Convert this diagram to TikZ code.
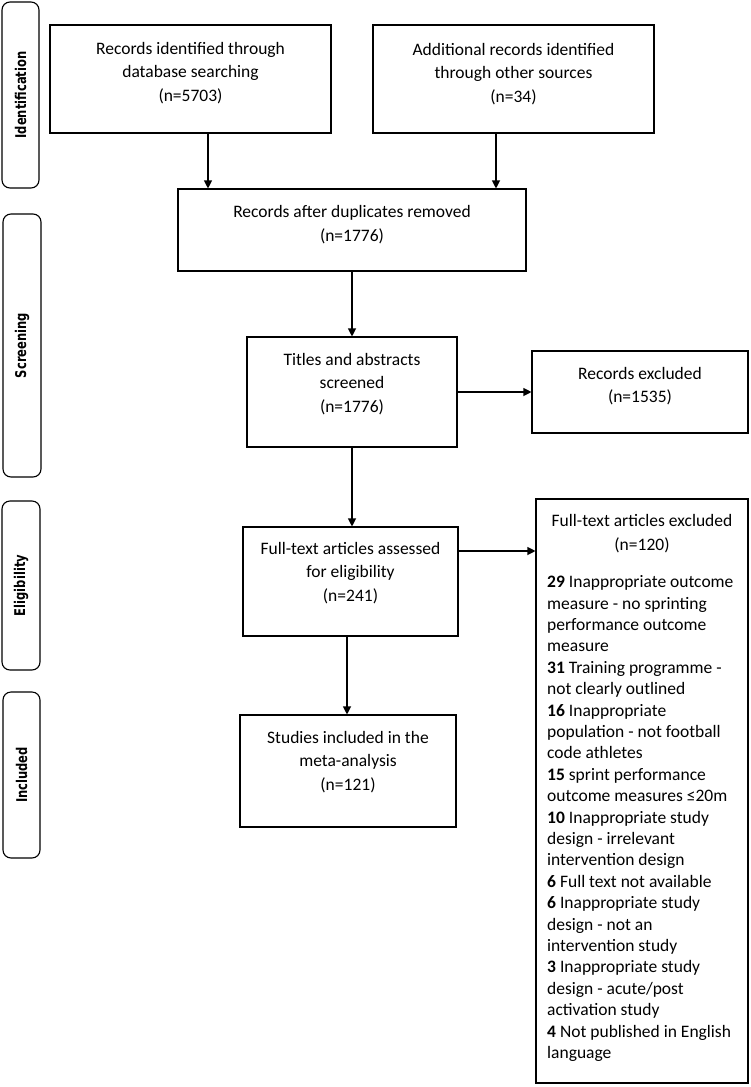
\documentclass[tikz,border=0pt]{standalone}
\usepackage{fontspec}
\setmainfont{Carlito}
\newfontfamily\sidefont[FakeStretch=0.78]{DejaVu Sans}
\usetikzlibrary{arrows.meta,fit}
\begin{document}
\begin{tikzpicture}[x=1pt,y=-1pt,
  box/.style={draw, line width=1.1pt, inner sep=0pt},
  side/.style={draw, line width=1.1pt, inner sep=0pt, rounded corners=8pt},
  sidetxt/.style={rotate=90, font=\sidefont\bfseries\fontsize{14.8}{18}\selectfont, inner sep=0pt},
  txt/.style={align=center, inner sep=0pt, font=\fontsize{17.5}{23.5}\selectfont},
  listtxt/.style={align=left, inner sep=0pt, font=\fontsize{17.5}{21.4}\selectfont},
  arr/.style={line width=1.1pt, -{Triangle[length=8pt,width=8pt]}}]
\useasboundingbox (0,0) rectangle (751,1087);

% side labels
\node[side, fit={(2,2) (39,188)}] (L1) {};
\node[sidetxt] at (L1.center) {Identification};
\node[side, fit={(3,214) (41,477)}] (L2) {};
\node[sidetxt] at (L2.center) {Screening};
\node[side, fit={(2,501) (40,670)}] (L3) {};
\node[sidetxt] at (L3.center) {Eligibility};
\node[side, fit={(3,692) (40,858)}] (L4) {};
\node[sidetxt] at (L4.center) {Included};

% boxes
\node[box, fit={(50,25) (331,133)}] (A) {};
\node[txt] at (190.5,73) {Records identified through\\database searching\\(n=5703)};
\node[box, fit={(373,25) (654,133)}] (B) {};
\node[txt] at (513.5,74) {Additional records identified\\through other sources\\(n=34)};
\node[box, fit={(178,189) (526,271)}] (C) {};
\node[txt] at (352,224.5) {Records after duplicates removed\\(n=1776)};
\node[box, fit={(247,337) (457,447)}] (D) {};
\node[txt] at (352,384) {Titles and abstracts\\screened\\(n=1776)};
\node[box, fit={(532,351) (748,433)}] (E) {};
\node[txt] at (640,386) {Records excluded\\(n=1535)};
\node[box, fit={(243,527) (458,636)}] (F) {};
\node[txt] at (350.5,573) {Full-text articles assessed\\for eligibility\\(n=241)};
\node[box, fit={(240,715) (456,827)}] (G) {};
\node[txt] at (348,762) {Studies included in the\\meta-analysis\\(n=121)};
\node[box, fit={(536,499) (748,1083)}] (H) {};
\node[txt] at (642,533.5) {Full-text articles excluded\\(n=120)};
\node[listtxt, anchor=north west] at (547,575.5) {\textbf{29} Inappropriate outcome\\
measure - no sprinting\\
performance outcome\\
measure\\
\textbf{31} Training programme -\\
not clearly outlined\\
\textbf{16} Inappropriate\\
population - not football\\
code athletes\\
\textbf{15} sprint performance\\
outcome measures ≤20m\\
\textbf{10} Inappropriate study\\
design - irrelevant\\
intervention design\\
\textbf{6} Full text not available\\
\textbf{6} Inappropriate study\\
design - not an\\
intervention study\\
\textbf{3} Inappropriate study\\
design - acute/post\\
activation study\\
\textbf{4} Not published in English\\
language};

% connectors
\draw[arr] ([xshift=17.5pt]A.south) -- ([xshift=17.5pt]A.south |- C.north);
\draw[arr] ([xshift=-17.5pt]B.south) -- ([xshift=-17.5pt]B.south |- C.north);
\draw[arr] (C.south) -- (D.north);
\draw[arr] (D.east) -- (E.west);
\draw[arr] (D.south) -- (D.south |- F.north);
\draw[arr] ([yshift=30.5pt]F.east) -- ([yshift=30.5pt]F.east -| H.west);
\draw[arr] ([xshift=-1pt]G.north |- F.south) -- ([xshift=-1pt]G.north);
\end{tikzpicture}
\end{document}
